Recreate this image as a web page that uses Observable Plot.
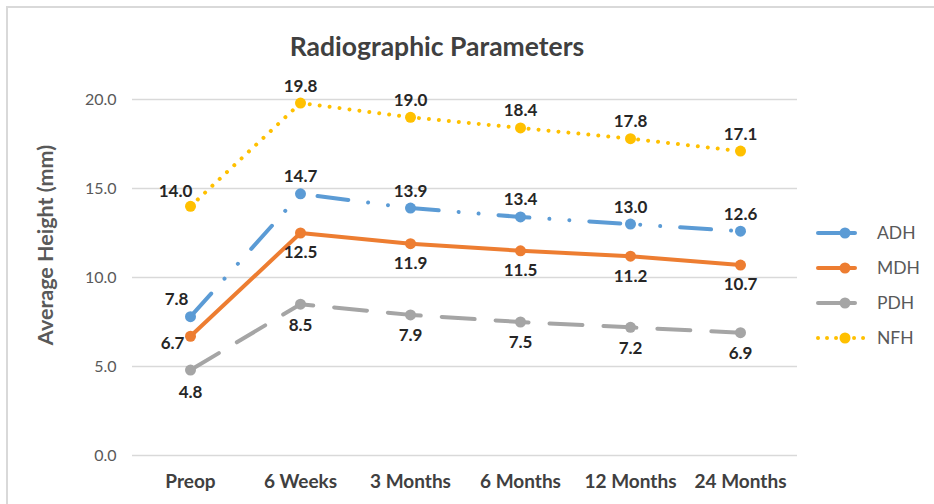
<!DOCTYPE html>
<html>
<head>
<meta charset="utf-8">
<script src="https://cdn.jsdelivr.net/npm/d3@7"></script>
<script src="https://cdn.jsdelivr.net/npm/@observablehq/plot@0.6"></script>
<style>
  html, body { margin: 0; padding: 0; background: #fff; }
  #wrap { position: relative; width: 934px; height: 504px; overflow: hidden; font-family: Lato, "Open Sans", sans-serif; }
  #frame { position: absolute; left: 6px; top: 6px; width: 940px; height: 510px; border-top: 2px solid #d9d9d9; border-left: 2px solid #d9d9d9; box-sizing: border-box; }
  #chart { position: absolute; left: 0; top: 0; }
  #title { position: absolute; left: 437px; top: 46px; transform: translate(-50%, -50%); font-size: 26.5px; font-weight: bold; color: #404040; white-space: nowrap; }
  #ylabel { position: absolute; left: 45px; top: 245px; transform: translate(-50%, -50%) rotate(-90deg); font-size: 21.5px; font-weight: bold; color: #595959; white-space: nowrap; }
  #legend { position: absolute; left: 815px; top: 215px; }
  .leg { display: flex; align-items: center; height: 35px; font-size: 17.5px; color: #595959; }
  .leg svg { margin-right: 6px; }
</style>
</head>
<body>
<div id="wrap">
  <div id="frame"></div>
  <div id="chart"></div>
  <div id="title">Radiographic Parameters</div>
  <div id="ylabel">Average Height (mm)</div>
  <div id="legend"></div>
</div>
<script>
// ---- data ----
const categories = ["Preop", "6 Weeks", "3 Months", "6 Months", "12 Months", "24 Months"];
const seriesNames = ["ADH", "MDH", "PDH", "NFH"];
const ADH = [7.8, 14.7, 13.9, 13.4, 13.0, 12.6];
const MDH = [6.7, 12.5, 11.9, 11.5, 11.2, 10.7];
const PDH = [4.8, 8.5, 7.9, 7.5, 7.2, 6.9];
const NFH = [14.0, 19.8, 19.0, 18.4, 17.8, 17.1];
const yTicks = [0, 5, 10, 15, 20];

// ---- styles ----
const styles = {
  ADH: { color: "#5B9BD5", dash: "31,20,0.01,20,0.01,20", dy: -17, first: { dx: -14, dy: -17 } },
  MDH: { color: "#ED7D31", dash: null, dy: 20, first: { dx: -18, dy: 7 } },
  PDH: { color: "#A5A5A5", dash: "33,21", dy: 21, first: { dx: 0, dy: 22 } },
  NFH: { color: "#FFC000", dash: "0.01,10", dy: -17, first: { dx: -15, dy: -15 } }
};

const valuesBy = { ADH, MDH, PDH, NFH };
const rows = seriesNames.flatMap(s => valuesBy[s].map((v, i) => ({ series: s, cat: categories[i], idx: i, value: v })));

const marks = [
  Plot.gridY(yTicks, { stroke: "#d9d9d9", strokeOpacity: 1, strokeWidth: 1.5 }),
  Plot.axisY({ ticks: yTicks, tickSize: 0, tickPadding: 16, fontSize: 16, fill: "#595959", label: null, tickFormat: d => d.toFixed(1) }),
  Plot.axisX({ tickSize: 0, tickPadding: 19, fontSize: 19, fontWeight: "bold", fill: "#404040", label: null })
];

// draw series in back-to-front order
for (const s of ["PDH", "MDH", "ADH", "NFH"]) {
  const st = styles[s];
  const data = rows.filter(r => r.series === s);
  marks.push(Plot.line(data, {
    x: "cat", y: "value", stroke: st.color, strokeWidth: 4,
    strokeDasharray: st.dash ?? undefined, strokeLinecap: "round", strokeLinejoin: "round"
  }));
  marks.push(Plot.dot(data, { x: "cat", y: "value", r: 5.5, fill: st.color, stroke: "none" }));
}
for (const s of seriesNames) {
  const st = styles[s];
  const data = rows.filter(r => r.series === s);
  marks.push(Plot.text(data.filter(r => r.idx > 0), {
    x: "cat", y: "value", text: d => d.value.toFixed(1), dy: st.dy,
    fontSize: 17, fontWeight: "bold", fill: "#262626"
  }));
  marks.push(Plot.text(data.filter(r => r.idx === 0), {
    x: "cat", y: "value", text: d => d.value.toFixed(1), dx: st.first.dx, dy: st.first.dy,
    fontSize: 17, fontWeight: "bold", fill: "#262626"
  }));
}

const chart = Plot.plot({
  width: 934, height: 504,
  marginTop: 99, marginBottom: 49, marginLeft: 132, marginRight: 137,
  x: { type: "point", domain: categories, padding: 0.5, label: null },
  y: { domain: [0, 20], label: null },
  style: { fontFamily: "Lato, 'Open Sans', sans-serif", background: "transparent" },
  marks
});
document.getElementById("chart").appendChild(chart);

// legend
const legend = document.getElementById("legend");
for (const s of seriesNames) {
  const st = styles[s];
  const div = document.createElement("div");
  div.className = "leg";
  const dashAttr = s === "NFH" ? 'stroke-dasharray="0.01,9"' : "";
  div.innerHTML = `<svg width="56" height="14"><line x1="3" y1="7" x2="${s === "NFH" ? 55 : 40}" y2="7" stroke="${st.color}" stroke-width="4" stroke-linecap="round" ${dashAttr}></line><circle cx="30" cy="7" r="5.5" fill="${st.color}"></circle></svg><span>${s}</span>`;
  legend.appendChild(div);
}
</script>
</body>
</html>
